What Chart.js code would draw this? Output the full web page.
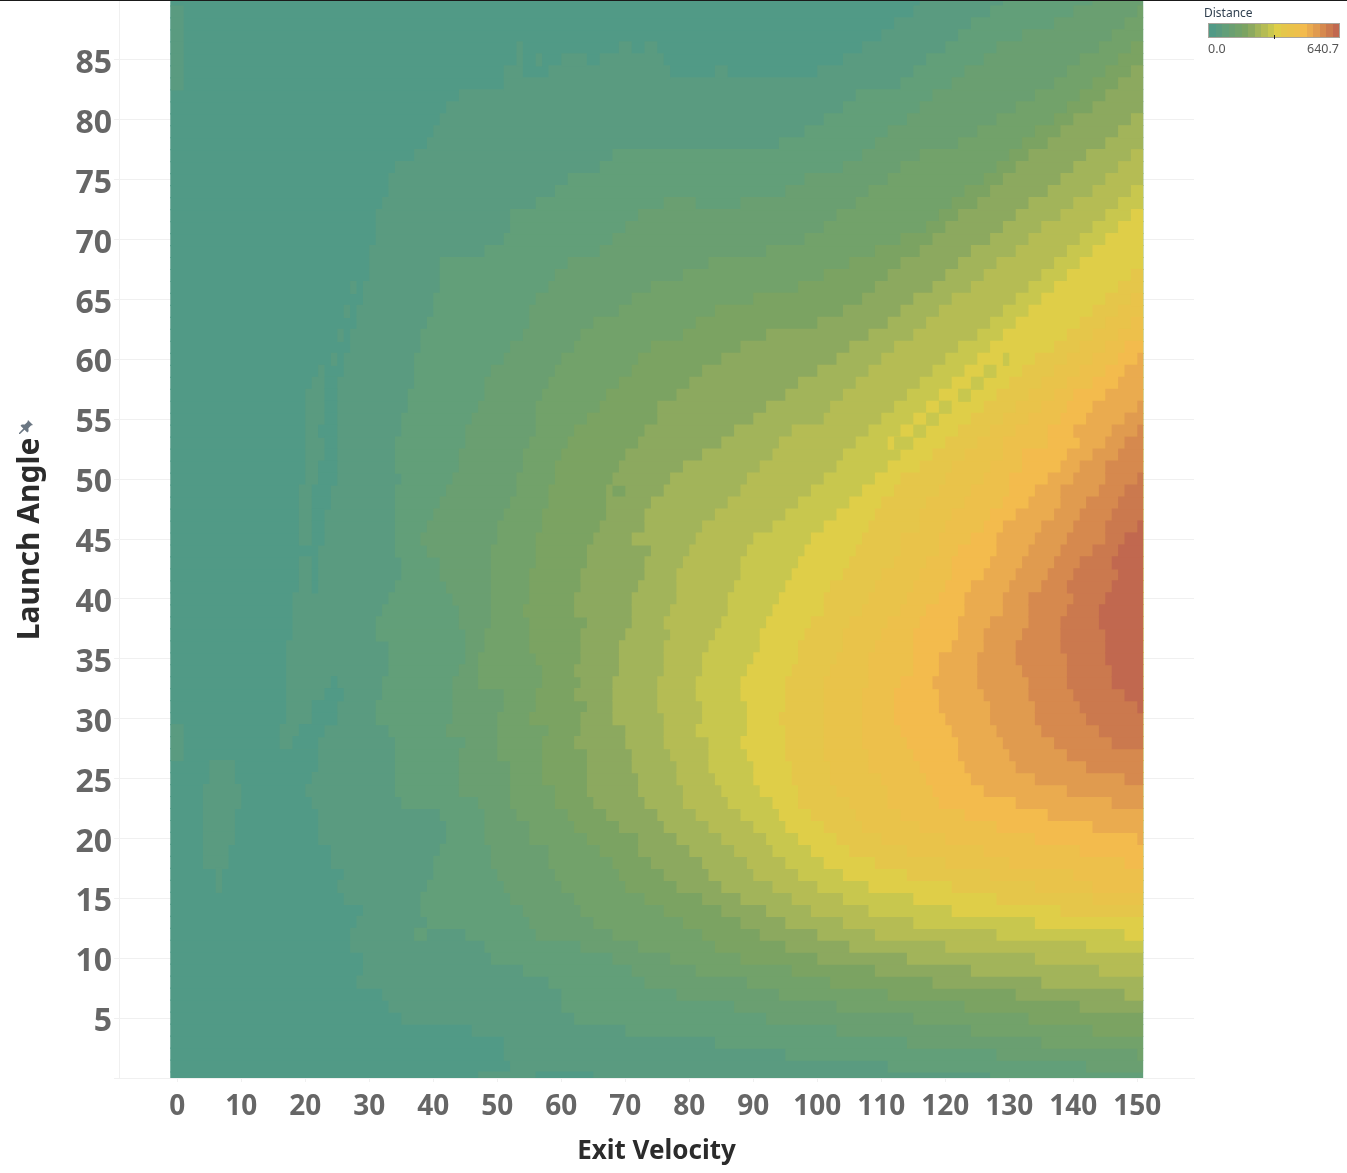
<!DOCTYPE html>
<html>
<head>
<meta charset="utf-8">
<title>Distance by Exit Velocity and Launch Angle</title>
<script src="https://cdn.jsdelivr.net/npm/chart.js@4/dist/chart.umd.min.js"></script>
<style>
  html, body { margin: 0; padding: 0; background: #fff; }
  #wrap { position: relative; width: 1347px; height: 1173px; overflow: hidden; font-family: "Noto Sans", sans-serif; }
  #topline { position: absolute; left: 0; top: 0; width: 1347px; height: 1px; background: #1a1a1a; }
  #pin { position: absolute; left: 18px; top: 419px; width: 16px; height: 16px; }
  #legendTitle { position: absolute; left: 1204px; top: 5px; font-size: 12px; line-height: 16px; color: #2f3f4f; }
  #legendRamp { position: absolute; left: 1208px; top: 23px; width: 130px; height: 13px; display: flex; border: 1px solid #a9a59c; }
  #legendRamp div { flex: 1; }
  #legendMark { position: absolute; left: 1274px; top: 35px; width: 1px; height: 4px; background: #222; }
  #legendMin, #legendMax { position: absolute; top: 41px; font-size: 12.5px; line-height: 16px; color: #555; }
  #legendMin { left: 1208px; }
  #legendMax { right: 8px; }
</style>
</head>
<body>
<div id="wrap">
  <canvas id="chart" width="1347" height="1173"></canvas>
  <div id="topline"></div>
  <svg id="pin" viewBox="0 0 16 16"><path fill="#6a7682" d="M10 1l5 5-2 .6-2.6 2.6.2 3-1.3 1.3-2.8-2.8L2 15l-1 0 0-1 4.300-4.500L2.500 6.700 3.800 5.400l3 .2L9.400 3z"/></svg>
  <div id="legendTitle">Distance</div>
  <div id="legendRamp"></div>
  <div id="legendMark"></div>
  <div id="legendMin">0.0</div>
  <div id="legendMax">640.7</div>
</div>
<script>
const xTicks = [0,10,20,30,40,50,60,70,80,90,100,110,120,130,140,150];
const yTicks = [0,5,10,15,20,25,30,35,40,45,50,55,60,65,70,75,80,85];

// one colour per distance band, low to high
const bandColors = ['#519a86','#5a9b80','#629f79','#6a9f71','#72a26a','#7ba362','#8ca95f','#a2b45a','#b5bc54','#c8c74e',
                    '#dfce48','#e5c64a','#e9c34a','#edc04b','#f3bb4d','#eaab4f','#e09b4f','#d6894e','#cb794e','#c1684f'];

// exit velocity where each band starts, per launch angle. edgeNN[i] is for angle firstAngle[NN-1]+i
const firstAngle = [0,0,0,0,0,6,7,9,11,12,14,15,16,18,20,23,25,28,31];
const edge01 = [47,52,51,51,46,35,33,32,28,29,29,27,27,28,29,26,25,26,24,24,22,22,22,21,20,21,22,22,16,16,17,17,17,17,17,17,17,18,18,18,18,19,19,19,22,19,19,19,19,19,20,20,20,20,20,20,20,20,21,26,26,27,27,28,28,29,29,30,30,30,31,31,31,32,33,33,34,37,39,40,41,42,44,51,100,104,107,110,112,115,116];
const edge02 = [127,111,95,84,70,62,60,60,58,54,49,48,45,39,38,38,39,40,40,41,42,42,41,35,34,34,34,34,34,33,31,31,32,32,33,33,33,31,31,32,33,34,35,35,34,34,34,34,34,34,35,34,34,34,35,35,36,36,37,37,37,38,38,39,40,40,41,41,41,48,51,52,52,56,59,61,66,68,94,98,101,104,106,113,115,117,120,122,124,127,129];
const edge03 = [151,142,128,114,103,92,87,78,73,71,68,63,56,55,54,52,51,50,49,49,48,48,48,47,44,44,44,44,45,42,43,43,43,43,44,45,45,45,44,44,43,42,41,41,39,38,39,40,41,42,43,44,44,45,45,46,47,48,48,49,51,52,54,55,55,56,58,59,61,66,68,70,72,88,95,98,104,107,109,111,114,116,118,121,123,126,128,132,137,140,143];
const edge04 = [151,151,150,135,124,115,103,94,89,81,77,72,68,65,63,62,60,59,58,58,55,55,53,52,52,52,52,50,50,50,50,51,51,47,47,47,48,48,49,49,49,49,49,49,49,50,50,51,52,53,53,54,54,55,56,56,56,57,58,59,60,62,63,65,69,71,74,79,83,92,98,101,103,106,108,111,113,116,122,125,128,131,134,137,139,141,144,146,148,150,151];
const edge05 = [151,151,151,151,143,133,123,111,102,96,88,84,82,79,76,73,70,69,68,66,64,62,61,59,59,57,57,57,57,58,55,56,56,57,57,56,55,55,55,54,55,55,55,56,56,56,57,57,58,58,59,59,60,61,62,64,66,67,69,71,72,74,79,81,84,90,97,101,105,109,113,117,119,121,123,126,128,130,132,134,137,139,141,143,145,147,149];
const edge06 = [141,131,118,109,100,95,91,88,85,82,78,76,74,72,72,69,67,65,64,64,64,64,62,63,63,64,62,63,62,63,63,63,64,62,62,63,63,64,64,65,66,67,67,70,68,69,70,72,73,75,75,78,80,82,85,88,92,100,104,107,109,111,113,116,118,120,122,125,127,129,131,133,136,138,140,143,145,147,149];
const edge07 = [148,135,124,114,105,100,95,92,88,85,83,82,80,78,76,75,73,72,72,71,71,70,70,68,68,68,68,69,69,69,70,71,71,71,72,73,73,74,71,73,73,74,76,77,79,82,85,87,90,92,95,97,100,103,105,108,111,113,115,118,120,122,124,127,129,131,133,136,138,140,142,145,147,149];
const edge08 = [144,134,120,109,104,99,96,93,90,89,87,85,83,81,79,79,78,78,77,76,76,76,75,75,75,76,76,76,77,76,77,78,78,78,79,80,81,82,84,86,88,89,91,93,94,96,101,102,104,106,108,110,112,115,117,119,121,124,126,128,131,133,135,138,140,143,145,147,149];
const edge09 = [142,128,115,108,104,100,97,95,93,92,90,88,86,85,84,83,83,83,81,82,82,81,81,82,82,83,84,85,86,86,87,88,88,89,90,93,95,97,99,101,103,104,106,108,110,112,114,116,118,120,122,125,127,129,131,133,135,137,139,141,143,145,147,149];
const edge10 = [148,134,121,115,108,104,101,99,97,95,94,93,91,90,90,89,88,89,89,89,88,88,89,90,91,91,92,93,94,95,96,97,98,99,101,103,105,107,109,111,113,111,113,115,117,119,121,123,125,127,129,131,133,135,137,139,141,143,145,147,149];
const edge11 = [138,128,121,114,109,105,103,101,99,97,97,96,96,95,95,95,94,95,95,95,96,97,97,98,99,101,101,102,104,105,106,107,108,109,110,112,113,116,118,120,122,124,126,128,130,132,134,137,139,141,143,145,147,149];
const edge12 = [143,134,127,120,114,110,107,106,105,103,102,102,101,101,101,101,101,101,101,102,103,104,104,105,107,108,109,110,112,113,113,116,116,117,119,120,121,123,125,127,129,131,133,135,137,139,141,143,145,147,149];
const edge13 = [143,140,130,126,120,116,113,111,111,110,108,108,107,107,107,107,107,108,108,108,109,110,111,113,114,115,116,117,119,119,120,121,123,124,126,127,129,129,131,133,135,137,139,141,143,145,147,149];
const edge14 = [148,141,134,128,123,119,118,117,116,115,114,113,112,112,112,113,115,115,115,115,116,117,119,120,121,121,122,124,126,127,129,130,130,132,132,136,136,138,139,140,143,145,147,148];
const edge15 = [150,143,136,131,126,124,123,122,122,121,120,119,119,118,119,119,121,122,122,123,123,124,126,127,128,128,129,131,133,134,136,138,139,141,140,142,143,145,147,148,150];
const edge16 = [146,139,134,131,130,129,128,127,127,126,125,125,125,126,126,127,129,129,130,131,132,133,134,135,137,138,138,140,141,143,145,146,148,150];
const edge17 = [148,142,139,137,135,134,134,133,133,132,131,131,132,133,133,133,135,136,137,138,139,140,141,142,144,145,145,147,148,150];
const edge18 = [146,144,142,141,140,139,139,139,138,138,138,139,140,139,140,141,143,145,145,146,147,148,150];
const edge19 = [150,148,146,146,145,145,145,144,144,145,146,147,146,147,148,150];
const bandEdges = [edge01,edge02,edge03,edge04,edge05,edge06,edge07,edge08,edge09,edge10,edge11,edge12,edge13,edge14,edge15,edge16,edge17,edge18,edge19];

// small islands that break the bands: [angle, from, to, band]
const patches = [
  [89,-1,1,1],[88,-1,1,1],[87,-1,1,1],[86,-1,1,1],[85,-1,1,1],[84,-1,1,1],[83,-1,1,1],
  [29,-1,1,1],[28,-1,1,1],[27,-1,1,1],
  [26,5,9,1],[25,5,9,1],[24,4,10,1],[23,4,10,1],[22,4,9,1],[21,4,9,1],[20,4,9,1],[19,4,8,1],[18,4,8,1],[17,6,7,1],[16,6,7,1],
  [84,51,54,1],[84,58,77,1],[84,84,86,1],[85,53,54,1],[85,56,57,1],[85,60,64,1],[85,66,76,1],[86,53,54,1],[86,69,71,1],[86,73,75,1],
  [66,27,28,1],[64,26,27,1],[62,25,26,1],[60,24,25,1],[59,22,23,1],
  [58,23,25,0],[57,23,25,0],[56,23,25,0],[55,23,25,0],[54,22,25,0],[53,23,25,0],[52,23,25,0],[51,22,25,0],[50,22,25,0],
  [49,21,24,0],[48,21,24,0],[47,21,23,0],[46,21,23,0],[45,21,23,0],[43,21,22,0],[42,21,22,0],[41,21,22,0],
  [33,24,25,0],[32,23,26,0],[31,21,25,0],[30,21,25,0],[29,19,23,0],[28,18,22,0],[0,56,65,0],
  [12,37,39,2],[73,76,81,3],[49,67,68,6],
  [53,112,115,9],[54,115,117,9],[55,117,119,9],[56,119,121,9],[57,122,124,9],[58,124,126,9],[59,126,128,9],[60,129,130,9]
];

const heatLeft = -1.1, heatRight = 150.9;

// later bands paint over earlier ones from their edge to the right end, so no seams between cells
const datasets = [];
const angles = [];
for (let a = 0; a <= 90; a++) angles.push(a);

datasets.push({
  order: 100,
  backgroundColor: bandColors[0],
  data: angles.map(a => ({ x: [heatLeft, heatRight], y: a }))
});
bandEdges.forEach((edge, k) => {
  const data = [];
  edge.forEach((v, i) => {
    if (v < 151) data.push({ x: [v, heatRight], y: firstAngle[k] + i });
  });
  datasets.push({ order: 99 - k, backgroundColor: bandColors[k + 1], data: data });
});
datasets.push({
  order: 0,
  backgroundColor: patches.map(p => bandColors[p[3]]),
  data: patches.map(p => ({ x: [p[1], p[2]], y: p[0] }))
});

const gridCol = '#f0f0f0';
const labelFont = '"Noto Sans", sans-serif';

new Chart(document.getElementById('chart').getContext('2d'), {
  type: 'bar',
  data: { datasets: datasets },
  options: {
    indexAxis: 'y',
    responsive: false,
    animation: false,
    // a bit over 1 so neighbouring rows overlap and no white hairlines show
    datasets: { bar: { grouped: false, barPercentage: 1.1, categoryPercentage: 1, borderWidth: 0 } },
    layout: { padding: { left: 0, top: 0, right: 153, bottom: 0 } },
    plugins: { legend: { display: false }, tooltip: { enabled: false } },
    scales: {
      x: {
        type: 'linear',
        min: -9.11,
        max: 158.86,
        afterBuildTicks: s => { s.ticks = xTicks.map(v => ({ value: v })); },
        afterFit: s => { s.height = 95; s.paddingLeft = 0; s.paddingRight = 0; },
        grid: { drawOnChartArea: false, color: gridCol, tickLength: 4 },
        border: { color: gridCol },
        ticks: { autoSkip: false, maxRotation: 0, padding: 8, color: '#666', font: { family: labelFont, size: 28, weight: 'bold' } },
        title: { display: true, text: 'Exit Velocity', color: '#2b2b2b', padding: { top: 0, bottom: 6 }, font: { family: labelFont, size: 26, weight: 'bold' } }
      },
      y: {
        type: 'linear',
        min: 0,
        max: 90,
        offset: false,
        afterBuildTicks: s => { s.ticks = yTicks.map(v => ({ value: v })); },
        afterFit: s => { s.width = 119; s.paddingTop = 0; s.paddingBottom = 0; },
        grid: { offset: false, color: gridCol, tickLength: 5 },
        border: { color: gridCol },
        // empty first line nudges the number down to sit on its gridline like the original
        ticks: { autoSkip: false, padding: 2, color: '#666', font: { family: labelFont, size: 32, weight: 'bold', lineHeight: 0.25 },
          callback: v => (v === 0 ? '' : ['', String(v)]) },
        title: { display: true, text: 'Launch Angle', color: '#2b2b2b', padding: { top: 12, bottom: 0 }, font: { family: labelFont, size: 30, weight: 'bold' } }
      }
    }
  }
});

// colour ramp in the legend
const ramp = document.getElementById('legendRamp');
bandColors.forEach(c => {
  const d = document.createElement('div');
  d.style.background = c;
  ramp.appendChild(d);
});
</script>
</body>
</html>
